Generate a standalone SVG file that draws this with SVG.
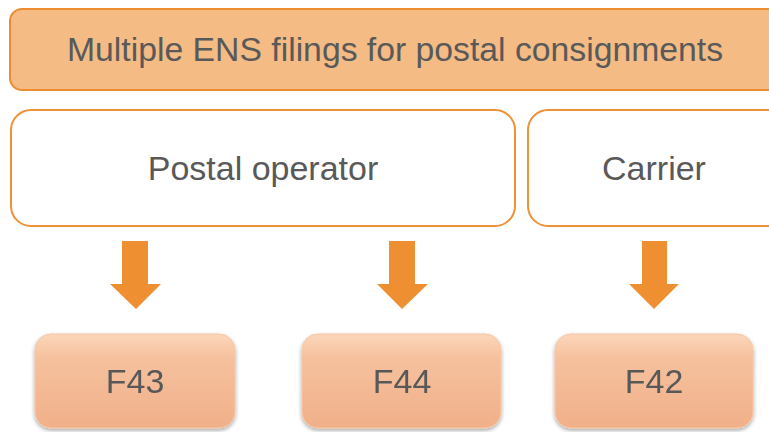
<svg xmlns="http://www.w3.org/2000/svg" width="769" height="432" viewBox="0 0 769 432">
<defs>
<style>
.t{font-family:"Liberation Sans",Arial,sans-serif;font-size:34px;fill:#595959;text-anchor:middle}
.w{fill:#ffffff;stroke:#ee9136;stroke-width:2}
.a{fill:#ee9031}
.f{fill:url(#g);stroke:#f6c6a2;stroke-width:1}
</style>
<linearGradient id="g" x1="0" y1="0" x2="0" y2="1">
<stop offset="0" stop-color="#fcd6bb"/>
<stop offset="0.25" stop-color="#f6c19e"/>
<stop offset="1" stop-color="#f0b089"/>
</linearGradient>
<filter id="s" x="-10%" y="-10%" width="120%" height="130%">
<feGaussianBlur in="SourceAlpha" stdDeviation="2"/>
<feOffset dy="2" result="b"/>
<feComponentTransfer><feFuncA type="linear" slope="0.35"/></feComponentTransfer>
<feMerge><feMergeNode/><feMergeNode in="SourceGraphic"/></feMerge>
</filter>
</defs>
<g id="header">
<rect x="10" y="9" width="775" height="81" rx="12" fill="#f4bb84" stroke="#ee8d30" stroke-width="2"/>
<text class="t" x="395" y="61" textLength="656" lengthAdjust="spacingAndGlyphs">Multiple ENS filings for postal consignments</text>
</g>
<g id="postal-operator">
<rect class="w" x="11" y="110" width="504" height="116" rx="20"/>
<text class="t" x="263" y="180">Postal operator</text>
</g>
<g id="carrier">
<rect class="w" x="528" y="110" width="260" height="116" rx="20"/>
<text class="t" x="654" y="180">Carrier</text>
</g>
<g id="connectors">
<polygon class="a" points="122,241 148,241 148,284 161,284 136,309 110,284 122,284"/>
<polygon class="a" points="389,241 415,241 415,284 428,284 402,309 377,284 389,284"/>
<polygon class="a" points="642,241 667,241 667,284 679,284 654,309 629,284 642,284"/>
</g>
<g id="f43" filter="url(#s)">
<rect class="f" x="35" y="334" width="200" height="94" rx="16"/>
<text class="t" x="135" y="393">F43</text>
</g>
<g id="f44" filter="url(#s)">
<rect class="f" x="302" y="334" width="199" height="94" rx="16"/>
<text class="t" x="402" y="393">F44</text>
</g>
<g id="f42" filter="url(#s)">
<rect class="f" x="555" y="334" width="198" height="94" rx="16"/>
<text class="t" x="654" y="393">F42</text>
</g>
</svg>
